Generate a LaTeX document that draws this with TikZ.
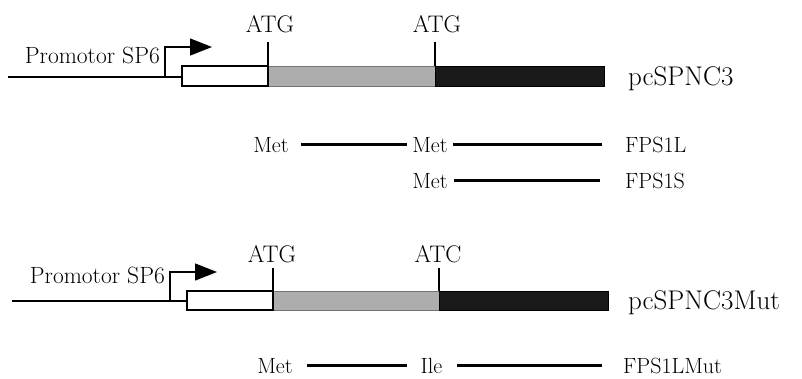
\documentclass[tikz,border=0pt]{standalone}
\usepackage{fontspec}
\usetikzlibrary{arrows.meta}
\begin{document}
\begin{tikzpicture}[x=1pt,y=-1pt,
  dnaline/.style={line width=1.4pt},
  rowline/.style={line width=2.6pt},
  boxbase/.style={rectangle,inner sep=0pt,outer sep=0pt,anchor=north west},
  wbox/.style={boxbase,draw=black,line width=1.3pt,fill=white},
  gbox/.style={boxbase,fill=black!32,draw=black!55,line width=0.6pt},
  kbox/.style={boxbase,fill=black!90,draw=black,line width=0.6pt},
  lbl/.style={inner sep=0pt,font=\fontsize{23.5}{28}\selectfont},
  codon/.style={inner sep=0pt,font=\fontsize{24}{29}\selectfont},
  cname/.style={inner sep=0pt,font=\fontsize{27}{32}\selectfont},
  rowlbl/.style={inner sep=0pt,font=\fontsize{22}{26}\selectfont}]
\useasboundingbox (0,0) rectangle (802,378);

% ---------- top construct pcSPNC3 ----------
\node[gbox,minimum width=167pt,minimum height=20pt] (b2) at (268,66) {};
\node[kbox,minimum width=169pt,minimum height=20pt] (b3) at (435,66) {};
\node[wbox,minimum width=86pt,minimum height=20pt] (b1) at (182,66) {};
\coordinate (s1) at (8,77);
\coordinate (pv1) at (165,77);
\coordinate (pt1) at (212,47);
\draw[dnaline] (s1) -- (b1.west |- s1);
\draw[dnaline,-{Triangle[length=22pt,width=17pt]}] (pv1) |- (pt1);
\node[lbl,anchor=base east] (pr1) at (160,63) {Promotor SP6};
\node[codon,anchor=base] (atg1) at (270,32) {ATG};
\node[codon,anchor=base] (atg2) at (437,32) {ATG};
\draw[dnaline,shorten >=9pt] (b1.north east) -- (b1.north east |- atg1.south);
\draw[dnaline,shorten >=9pt] (b2.north east) -- (b2.north east |- atg2.south);
\node[cname,anchor=base west] (c1) at (628,85) {pcSPNC3};

% ---------- products ----------
\node[rowlbl,anchor=base] (m1) at (271,152) {Met};
\node[rowlbl,anchor=base] (m2) at (430,152) {Met};
\node[rowlbl,anchor=base west] (f1) at (625,152) {FPS1L};
\draw[rowline,shorten <=12pt,shorten >=5pt] (m1.east) -- (m2.west);
\draw[rowline,shorten <=5pt,shorten >=23pt] (m2.east) -- (f1.west |- m2.east);

\node[rowlbl,anchor=base] (m3) at (430,188) {Met};
\node[rowlbl,anchor=base west] (f2) at (625,188) {FPS1S};
\draw[rowline,shorten <=6pt,shorten >=25pt] (m3.east) -- (f2.west |- m3.east);

% ---------- bottom construct pcSPNC3Mut ----------
\node[gbox,minimum width=166pt,minimum height=19pt] (b5) at (273,291) {};
\node[kbox,minimum width=169pt,minimum height=19pt] (b6) at (439,291) {};
\node[wbox,minimum width=86pt,minimum height=19pt] (b4) at (187,291) {};
\coordinate (s2) at (12,301);
\coordinate (pv2) at (170,301);
\coordinate (pt2) at (217,272);
\draw[dnaline] (s2) -- (b4.west |- s2);
\draw[dnaline,-{Triangle[length=22pt,width=17pt]}] (pv2) |- (pt2);
\node[lbl,anchor=base east] (pr2) at (165,283) {Promotor SP6};
\node[codon,anchor=base] (atg3) at (272,262) {ATG};
\node[codon,anchor=base] (atc) at (438,262) {ATC};
\draw[dnaline,shorten >=5pt] (b4.north east) -- (b4.north east |- atg3.south);
\draw[dnaline,shorten >=5pt] (b5.north east) -- (b5.north east |- atc.south);
\node[cname,anchor=base west] (c2) at (628,309) {pcSPNC3Mut};

% ---------- mutant product ----------
\node[rowlbl,anchor=base] (m4) at (275,373) {Met};
\node[rowlbl,anchor=base] (ile) at (431.5,373) {Ile};
\node[rowlbl,anchor=base west] (f3) at (623,373) {FPS1LMut};
\draw[rowline,shorten <=14pt,shorten >=13pt] (m4.east) -- (ile.west |- m4.east);
\draw[rowline,shorten <=14pt,shorten >=21pt] (ile.east |- m4.east) -- (f3.west |- m4.east);
\end{tikzpicture}
\end{document}
